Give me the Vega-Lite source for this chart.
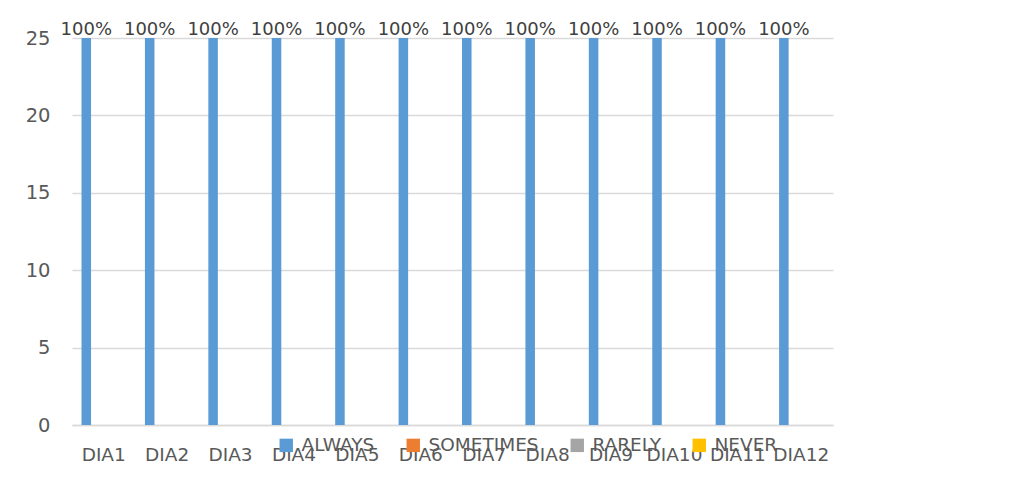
{
  "$schema": "https://vega.github.io/schema/vega-lite/v6.json",
  "width": 761,
  "height": 387,
  "autosize": {"type": "none"},
  "padding": {"left": 72, "top": 38, "right": 200, "bottom": 56},
  "background": "white",
  "config": {
    "font": "DejaVu Sans",
    "view": {"stroke": null},
    "axis": {"labelFont": "DejaVu Sans", "labelColor": "#595959"}
  },
  "data": {
    "values": [
      {"cat": "DIA1", "series": "ALWAYS", "value": 25, "label": "100%"},
      {"cat": "DIA1", "series": "SOMETIMES", "value": 0, "label": ""},
      {"cat": "DIA1", "series": "RARELY", "value": 0, "label": ""},
      {"cat": "DIA1", "series": "NEVER", "value": 0, "label": ""},
      {"cat": "DIA2", "series": "ALWAYS", "value": 25, "label": "100%"},
      {"cat": "DIA2", "series": "SOMETIMES", "value": 0, "label": ""},
      {"cat": "DIA2", "series": "RARELY", "value": 0, "label": ""},
      {"cat": "DIA2", "series": "NEVER", "value": 0, "label": ""},
      {"cat": "DIA3", "series": "ALWAYS", "value": 25, "label": "100%"},
      {"cat": "DIA3", "series": "SOMETIMES", "value": 0, "label": ""},
      {"cat": "DIA3", "series": "RARELY", "value": 0, "label": ""},
      {"cat": "DIA3", "series": "NEVER", "value": 0, "label": ""},
      {"cat": "DIA4", "series": "ALWAYS", "value": 25, "label": "100%"},
      {"cat": "DIA4", "series": "SOMETIMES", "value": 0, "label": ""},
      {"cat": "DIA4", "series": "RARELY", "value": 0, "label": ""},
      {"cat": "DIA4", "series": "NEVER", "value": 0, "label": ""},
      {"cat": "DIA5", "series": "ALWAYS", "value": 25, "label": "100%"},
      {"cat": "DIA5", "series": "SOMETIMES", "value": 0, "label": ""},
      {"cat": "DIA5", "series": "RARELY", "value": 0, "label": ""},
      {"cat": "DIA5", "series": "NEVER", "value": 0, "label": ""},
      {"cat": "DIA6", "series": "ALWAYS", "value": 25, "label": "100%"},
      {"cat": "DIA6", "series": "SOMETIMES", "value": 0, "label": ""},
      {"cat": "DIA6", "series": "RARELY", "value": 0, "label": ""},
      {"cat": "DIA6", "series": "NEVER", "value": 0, "label": ""},
      {"cat": "DIA7", "series": "ALWAYS", "value": 25, "label": "100%"},
      {"cat": "DIA7", "series": "SOMETIMES", "value": 0, "label": ""},
      {"cat": "DIA7", "series": "RARELY", "value": 0, "label": ""},
      {"cat": "DIA7", "series": "NEVER", "value": 0, "label": ""},
      {"cat": "DIA8", "series": "ALWAYS", "value": 25, "label": "100%"},
      {"cat": "DIA8", "series": "SOMETIMES", "value": 0, "label": ""},
      {"cat": "DIA8", "series": "RARELY", "value": 0, "label": ""},
      {"cat": "DIA8", "series": "NEVER", "value": 0, "label": ""},
      {"cat": "DIA9", "series": "ALWAYS", "value": 25, "label": "100%"},
      {"cat": "DIA9", "series": "SOMETIMES", "value": 0, "label": ""},
      {"cat": "DIA9", "series": "RARELY", "value": 0, "label": ""},
      {"cat": "DIA9", "series": "NEVER", "value": 0, "label": ""},
      {"cat": "DIA10", "series": "ALWAYS", "value": 25, "label": "100%"},
      {"cat": "DIA10", "series": "SOMETIMES", "value": 0, "label": ""},
      {"cat": "DIA10", "series": "RARELY", "value": 0, "label": ""},
      {"cat": "DIA10", "series": "NEVER", "value": 0, "label": ""},
      {"cat": "DIA11", "series": "ALWAYS", "value": 25, "label": "100%"},
      {"cat": "DIA11", "series": "SOMETIMES", "value": 0, "label": ""},
      {"cat": "DIA11", "series": "RARELY", "value": 0, "label": ""},
      {"cat": "DIA11", "series": "NEVER", "value": 0, "label": ""},
      {"cat": "DIA12", "series": "ALWAYS", "value": 25, "label": "100%"},
      {"cat": "DIA12", "series": "SOMETIMES", "value": 0, "label": ""},
      {"cat": "DIA12", "series": "RARELY", "value": 0, "label": ""},
      {"cat": "DIA12", "series": "NEVER", "value": 0, "label": ""}
    ]
  },
  "encoding": {
    "x": {
      "field": "cat",
      "type": "nominal",
      "sort": null,
      "scale": {"paddingInner": 0.3, "paddingOuter": 0.15},
      "axis": {
        "title": null,
        "labelAngle": 0,
        "ticks": false,
        "domainColor": "#D9D9D9",
        "domainWidth": 1.5,
        "labelPadding": 20,
        "labelFontSize": 18.5
      }
    },
    "xOffset": {
      "field": "series",
      "type": "nominal",
      "sort": ["ALWAYS", "SOMETIMES", "RARELY", "NEVER"],
      "scale": {"paddingInner": 0.18, "paddingOuter": 0}
    },
    "y": {
      "field": "value",
      "type": "quantitative",
      "scale": {"domain": [0, 25], "nice": false},
      "axis": {
        "title": null,
        "values": [0, 5, 10, 15, 20, 25],
        "domain": false,
        "ticks": false,
        "gridColor": "#D9D9D9",
        "gridWidth": 1.5,
        "labelPadding": 22,
        "labelFontSize": 19.5
      }
    }
  },
  "layer": [
    {
      "mark": {"type": "bar"},
      "encoding": {
        "color": {
          "field": "series",
          "type": "nominal",
          "sort": ["ALWAYS", "SOMETIMES", "RARELY", "NEVER"],
          "scale": {
            "domain": ["ALWAYS", "SOMETIMES", "RARELY", "NEVER"],
            "range": ["#5B9BD5", "#ED7D31", "#A5A5A5", "#FFC000"]
          },
          "legend": {
            "title": null,
            "orient": "none",
            "direction": "horizontal",
            "legendX": 205,
            "legendY": 398,
            "symbolType": "square",
            "symbolSize": 180,
            "symbolStrokeWidth": 0,
            "labelFontSize": 18.5,
            "labelColor": "#595959",
            "labelFont": "DejaVu Sans",
            "labelOffset": 6,
            "columnPadding": 29
          }
        }
      }
    },
    {
      "mark": {"type": "text", "baseline": "alphabetic", "dy": -3, "fontSize": 18, "color": "#404040"},
      "encoding": {
        "text": {"field": "label"}
      }
    }
  ]
}
